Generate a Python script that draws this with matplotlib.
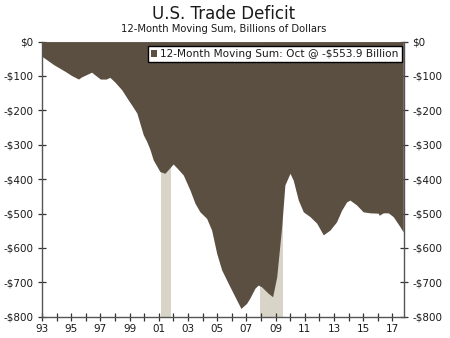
import matplotlib
matplotlib.use("Agg")
import matplotlib.pyplot as plt
from matplotlib.patches import Patch
from matplotlib.ticker import FixedLocator, MultipleLocator

# 12-month moving sum of the U.S. trade balance, billions of dollars
years = [1993.0, 1993.4, 1993.8, 1994.2, 1994.6, 1995.0, 1995.5, 1995.7, 1996.0,
         1996.4, 1996.6, 1997.0, 1997.4, 1997.65, 1998.0, 1998.46, 1998.9, 1999.2,
         1999.5, 1999.94, 2000.17, 2000.4, 2000.62, 2001.08, 2001.42, 2001.99,
         2002.3, 2002.68, 2003.14, 2003.48, 2003.82, 2004.28, 2004.62, 2004.97,
         2005.31, 2005.76, 2006.33, 2006.63, 2007.02, 2007.25, 2007.59, 2007.81,
         2008.04, 2008.5, 2008.8, 2009.08, 2009.42, 2009.64, 2009.99, 2010.21,
         2010.56, 2010.9, 2011.36, 2011.82, 2012.27, 2012.73, 2013.18, 2013.53,
         2013.87, 2014.1, 2014.55, 2015.0, 2015.47, 2016.03, 2016.1, 2016.38,
         2016.72, 2017.06, 2017.52, 2017.75]
deficit = [-43, -55, -67, -77, -87, -98, -109, -103, -97,
           -89, -96, -109, -109, -104, -118, -140, -169, -188,
           -208, -271, -290, -314, -344, -378, -383, -356,
           -370, -388, -432, -470, -495, -514, -548, -616,
           -664, -703, -751, -776, -761, -745, -717, -708,
           -713, -732, -742, -684, -538, -417, -383, -403,
           -461, -495, -509, -528, -562, -548, -524, -490,
           -466, -461, -475, -495, -498, -499, -505, -498,
           -498, -509, -538, -553.9]

# NBER recessions (decimal years)
recessions = [(2001.17, 2001.83), (2007.92, 2009.5)]

y_ticks = [0, -100, -200, -300, -400, -500, -600, -700, -800]
y_labels = ["$0", "-$100", "-$200", "-$300", "-$400", "-$500", "-$600", "-$700", "-$800"]
x_label_years = list(range(1993, 2018, 2))
x_labels = ["%02d" % (y % 100) for y in x_label_years]

legend_text = "12-Month Moving Sum: Oct @ -$553.9 Billion"

fill_color = "#5b4f42"
rec_color = "#d8d4c8"
text_color = "#1a1a1a"

plt.rcParams["font.family"] = ["DejaVu Sans"]

fig = plt.figure(figsize=(4.5, 3.38), dpi=100)
ax = fig.add_axes([0.0933, 0.063, 0.8045, 0.814])

for start, end in recessions:
    ax.axvspan(start, end, color=rec_color, lw=0, zorder=1)

ax.fill_between(years, deficit, 0, color=fill_color, lw=0, zorder=2)

ax.set_xlim(1993.0, 2017.8)
ax.set_ylim(-800, 0)

ax.set_yticks(y_ticks)
ax.set_yticklabels(y_labels)
ax.xaxis.set_major_locator(FixedLocator(x_label_years))
ax.set_xticklabels(x_labels)
ax.xaxis.set_minor_locator(MultipleLocator(1))

ax.tick_params(axis="both", which="both", direction="inout", length=6,
               width=0.9, colors="#333333", labelcolor=text_color, labelsize=7.5)
ax.tick_params(axis="y", right=True, labelright=True, pad=3)
ax.tick_params(axis="x", pad=2)

ax.spines["top"].set_visible(False)
for side in ("left", "right", "bottom"):
    ax.spines[side].set_color("#555555")
    ax.spines[side].set_linewidth(1.0)
    ax.spines[side].set_zorder(3)

handle = Patch(facecolor=fill_color, edgecolor="none")
leg = ax.legend([handle], [legend_text], loc="upper right",
                bbox_to_anchor=(0.994, 0.984), borderaxespad=0,
                fancybox=False, framealpha=1, edgecolor="black",
                handlelength=0.6, handleheight=0.6, handletextpad=0.3,
                borderpad=0.3, fontsize=7.6)
leg.get_frame().set_linewidth(1.0)
for t in leg.get_texts():
    t.set_color(text_color)

fig.text(0.497, 0.958, "U.S. Trade Deficit", ha="center", va="center",
         fontsize=12, color=text_color)
fig.text(0.497, 0.913, "12-Month Moving Sum, Billions of Dollars", ha="center",
         va="center", fontsize=7.2, color=text_color)

fig.savefig("out.png", dpi=100)
